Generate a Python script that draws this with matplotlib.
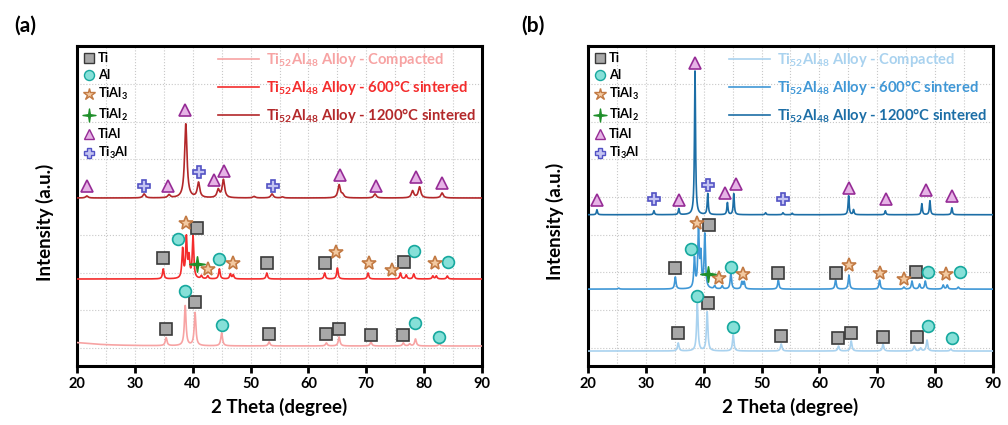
import numpy as np
import matplotlib
matplotlib.use("Agg")
import matplotlib.pyplot as plt
from matplotlib.lines import Line2D
from matplotlib.path import Path
from matplotlib.ticker import MultipleLocator, FixedLocator, NullFormatter

plt.rcParams["font.family"] = ["Lato", "DejaVu Sans"]
plt.rcParams["font.weight"] = "bold"
plt.rcParams["mathtext.fontset"] = "custom"
plt.rcParams["mathtext.rm"] = "Lato:bold"
plt.rcParams["mathtext.bf"] = "Lato:bold"
plt.rcParams["mathtext.it"] = "Lato:bold"

# ---- XRD peak lists: (2theta, height above baseline) ----
# panel (a)
A_COMP_PEAKS = [(18.0, 4), (35.4, 8), (38.7, 40), (40.4, 33), (45.0, 13), (53.2, 4),
                (63.1, 3), (65.3, 9), (70.8, 4), (76.4, 3), (77.5, 2), (78.5, 7), (82.6, 2)]
A_600_PEAKS = [(34.9, 10), (38.25, 29), (38.9, 40), (39.35, 20), (40.05, 42), (41.5, 3),
               (42.6, 3), (44.6, 10), (46.5, 5), (47.0, 4), (52.8, 6), (62.8, 6), (65.0, 11),
               (70.3, 6), (75.9, 6), (76.9, 4), (78.2, 5), (81.5, 3), (82.1, 3), (84.0, 3)]
A_1200_PEAKS = [(21.7, 2), (31.6, 4), (35.9, 3), (38.8, 74), (41.0, 15), (44.4, 8), (45.3, 18),
                (50.6, 1.5), (53.7, 4), (55.5, 1), (65.3, 13), (65.9, 3), (71.5, 4), (78.0, 7),
                (79.2, 11), (83.1, 5)]
# panel (b)
B_COMP_PEAKS = [(35.6, 8), (38.9, 47), (40.6, 39), (45.1, 16), (53.4, 7), (63.3, 5),
                (65.5, 10), (71.0, 7), (76.4, 5), (77.5, 3), (78.6, 11), (82.7, 2)]
B_600_PEAKS = [(25.3, 1), (35.1, 12), (38.4, 30), (39.1, 58), (39.5, 32), (40.2, 54), (41.9, 3),
               (43.2, 3), (44.7, 16), (46.6, 7), (47.0, 7), (52.9, 9), (62.8, 9), (65.1, 14),
               (70.4, 9), (74.6, 2), (76.0, 8), (77.3, 5), (78.3, 8), (81.4, 4), (82.1, 4),
               (84.0, 2)]
B_1200_PEAKS = [(21.55, 5), (31.4, 4), (35.7, 6), (38.5, 144), (40.7, 21), (44.1, 12),
                (45.2, 21), (50.7, 2), (53.7, 2), (55.3, 1.5), (65.05, 19), (65.9, 5),
                (71.4, 4), (77.7, 11), (79.1, 14), (82.9, 7)]

# ---- phase markers (2theta, intensity position) ----
A_TI = [(35.4, 37), (40.4, 64), (53.2, 32), (63.1, 32), (65.3, 37), (70.8, 31), (76.4, 31),
        (34.9, 108), (40.7, 138), (52.8, 103), (62.8, 103), (76.5, 104)]
A_AL = [(38.7, 75), (45.0, 41), (78.5, 43), (82.6, 29),
        (37.5, 127), (44.6, 107), (78.2, 115), (84.2, 104)]
A_TIAL3 = [(38.8, 143), (42.6, 97), (47.0, 103), (64.7, 114), (70.5, 103), (74.5, 96), (81.8, 103)]
A_TIAL2 = [(40.7, 102)]
A_TIAL = [(21.7, 180), (35.8, 180), (38.7, 256), (43.7, 186), (45.4, 195), (65.5, 191),
          (71.6, 180), (78.6, 189), (83.1, 183)]
A_TI3AL = [(31.6, 180), (41.0, 194), (53.8, 180)]

B_TI = [(35.6, 32.5), (40.8, 62.5), (53.4, 29.5), (63.3, 27.5), (65.5, 32.5), (71.0, 28.5),
        (76.8, 28.5), (35.1, 97.5), (40.9, 140.5), (52.9, 92.5), (62.8, 92.5), (76.7, 93.5)]
B_AL = [(38.9, 69.5), (45.1, 38.5), (78.7, 39.5), (82.9, 27.5),
        (37.8, 116.5), (44.8, 98.5), (78.7, 93.5), (84.3, 93.5)]
B_TIAL3 = [(38.8, 142.5), (42.6, 87.5), (46.8, 91.5), (65.1, 100.5), (70.5, 92.5), (74.7, 86.5),
           (81.8, 91.5)]
B_TIAL2 = [(40.8, 91.5)]
B_TIAL = [(21.55, 165.5), (35.7, 165.5), (38.5, 302.5), (43.6, 172.5), (45.6, 181.5),
          (65.2, 177.5), (71.5, 166.5), (78.4, 175.5), (82.9, 169.5)]
B_TI3AL = [(31.4, 166.5), (40.7, 180.5), (53.7, 166.5)]

LABELS = ["Ti$_{52}$Al$_{48}$ Alloy - Compacted",
          "Ti$_{52}$Al$_{48}$ Alloy - 600°C sintered",
          "Ti$_{52}$Al$_{48}$ Alloy - 1200°C sintered"]
PHASES = ["Ti", "Al", "TiAl$_3$", "TiAl$_2$", "TiAl", "Ti$_3$Al"]

RED = ["#f7a3a3", "#f42c2c", "#b3282a"]
BLUE = ["#a9d2ef", "#3f97d6", "#1c6ea6"]

# thin four-pointed star for TiAl2
_r = 0.13
SPARKLE = Path([(0, 1), (_r, _r), (1, 0), (_r, -_r), (0, -1), (-_r, -_r), (-1, 0), (-_r, _r), (0, 1)],
               closed=True)

MSTYLE = {
    "Ti": dict(marker="s", mfc="#a8a8a8", mec="#3a3a3a", ms=8),
    "Al": dict(marker="o", mfc="#86e0d8", mec="#16a89e", ms=8.5),
    "TiAl$_3$": dict(marker="*", mfc="#f3c9a0", mec="#c27a44", ms=10.5),
    "TiAl$_2$": dict(marker=SPARKLE, mfc="#1f8f2a", mec="#1f8f2a", ms=11),
    "TiAl": dict(marker="^", mfc="#e6b3e6", mec="#962c96", ms=9),
    "Ti$_3$Al": dict(marker="P", mfc="#c4c4f2", mec="#5252c4", ms=9),
}

two_theta = np.linspace(20, 90, 4001)


def pattern(peaks, width):
    y = np.zeros_like(two_theta)
    for pos, h in peaks:
        w = 10.0 if pos < 20 else width
        y += h / (1 + ((two_theta - pos) / (w / 2)) ** 2)
    return y


def draw_panel(ax, peak_sets, offsets, widths, colors, markers):
    for peaks, off, w, c, lab in zip(peak_sets, offsets, widths, colors, LABELS):
        ax.plot(two_theta, pattern(peaks, w) + off, color=c, lw=1.2, label=lab, zorder=3)
    for name, pts in zip(PHASES, markers):
        xs, ys = zip(*pts)
        ax.plot(xs, ys, ls="none", mew=1.2, zorder=5, **MSTYLE[name])

    ax.set_xlim(20, 90)
    ax.set_ylim(0, 320)
    ax.xaxis.set_major_locator(MultipleLocator(10))
    ax.xaxis.set_minor_locator(MultipleLocator(5))
    ax.yaxis.set_major_locator(FixedLocator(np.arange(18, 320, 37.7)))
    ax.yaxis.set_major_formatter(NullFormatter())
    ax.tick_params(axis="y", length=0)
    ax.tick_params(axis="x", which="major", length=5, width=2, labelsize=10.5, pad=3)
    ax.tick_params(axis="x", which="minor", length=0)
    ax.grid(True, which="both", color="#c8c8c8", ls=":", lw=0.8)
    ax.set_axisbelow(True)
    for s in ax.spines.values():
        s.set_linewidth(2.2)
    ax.set_xlabel("2 Theta (degree)", fontsize=13.5, fontweight="bold", labelpad=5)
    ax.set_ylabel("Intensity (a.u.)", fontsize=13.5, fontweight="bold")
    ax.yaxis.set_label_coords(-0.058, 0.45)
    for t in ax.get_xticklabels():
        t.set_fontweight("bold")

    phase_handles = [Line2D([], [], ls="none", mew=1.0, **dict(MSTYLE[n], ms=MSTYLE[n]["ms"] * 0.85))
                     for n in PHASES]
    leg1 = ax.legend(phase_handles, PHASES, loc="upper left", frameon=False,
                     fontsize=9.3, handlelength=0.8, handletextpad=0.3, labelspacing=0.38,
                     borderaxespad=0.3, borderpad=0.2)
    ax.add_artist(leg1)
    ax.legend(loc="upper right", frameon=False, fontsize=10.6, handlelength=2.8,
              handletextpad=0.45, labelspacing=0.62, labelcolor="linecolor",
              bbox_to_anchor=(0.985, 0.985), borderaxespad=0, borderpad=0)


fig = plt.figure(figsize=(10.08, 4.25), dpi=100)
ax_a = fig.add_axes([0.0764, 0.1388, 0.4018, 0.7530])
ax_b = fig.add_axes([0.5833, 0.1400, 0.4018, 0.7518])

draw_panel(ax_a, [A_COMP_PEAKS, A_600_PEAKS, A_1200_PEAKS], [20, 87, 168], [0.35, 0.3, 0.5],
           RED, [A_TI, A_AL, A_TIAL3, A_TIAL2, A_TIAL, A_TI3AL])
draw_panel(ax_b, [B_COMP_PEAKS, B_600_PEAKS, B_1200_PEAKS], [14.5, 76.5, 151], [0.3, 0.28, 0.22],
           BLUE, [B_TI, B_AL, B_TIAL3, B_TIAL2, B_TIAL, B_TI3AL])

fig.text(0.014, 0.925, "(a)", fontsize=15, fontweight="bold")
fig.text(0.517, 0.925, "(b)", fontsize=15, fontweight="bold")

fig.savefig("out.png", dpi=100)
